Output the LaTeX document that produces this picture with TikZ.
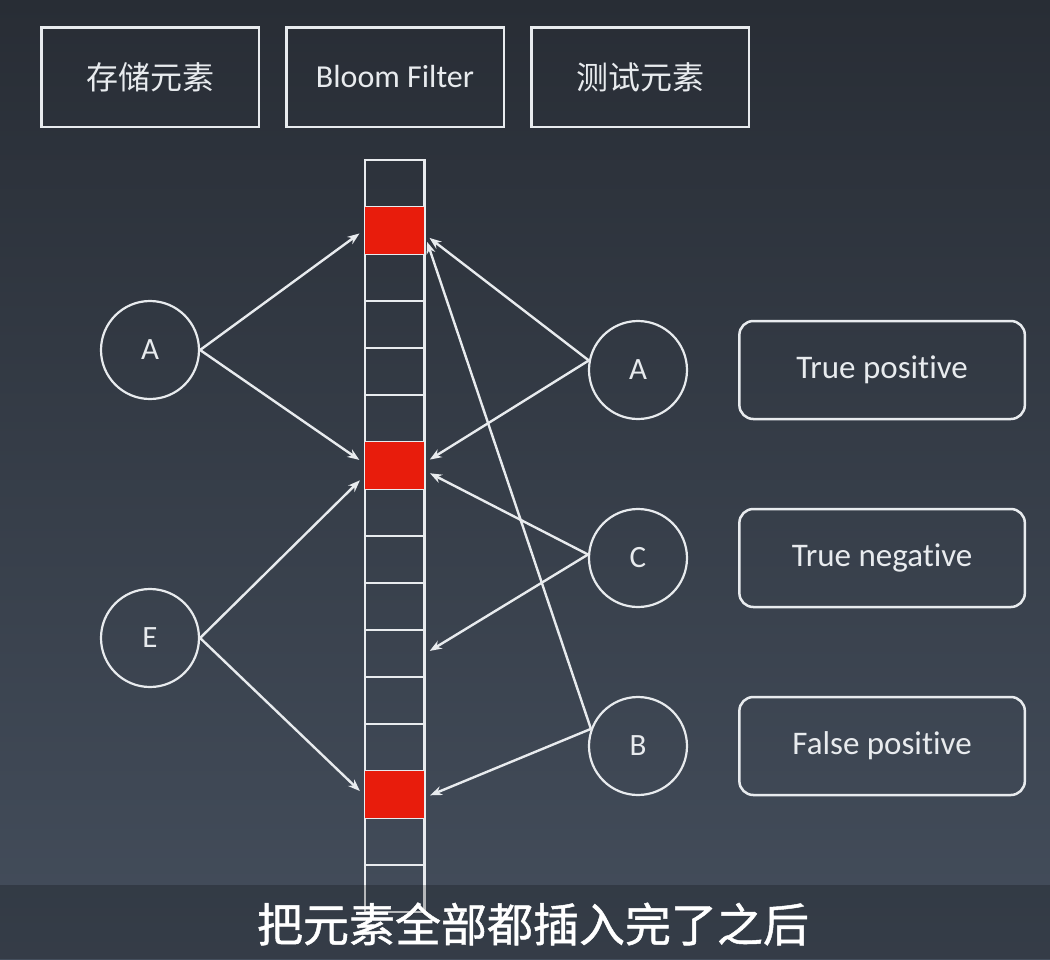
\documentclass[tikz,border=0pt]{standalone}
\usepackage{fontspec}
\setmainfont{Carlito}[Ligatures=NoCommon]
\newfontfamily\cjk{Noto Sans CJK SC}
\newfontfamily\cjksub[FakeBold=1]{Noto Sans CJK SC}
\usetikzlibrary{arrows.meta, positioning}
\definecolor{bgtop}{RGB}{40,45,53}
\definecolor{bgbot}{RGB}{68,78,92}
\definecolor{ink}{RGB}{232,235,238}
\definecolor{bitred}{RGB}{232,28,12}

\begin{document}
\begin{tikzpicture}[x=1pt, y=-1pt,
    box/.style={rectangle, draw=ink, line width=2.5pt, minimum width=217.5pt, minimum height=99.5pt, text=ink, font=\fontsize{32}{38}\selectfont},
    res/.style={box, rounded corners=14pt, minimum width=285.5pt, minimum height=98pt, font=\fontsize{33}{39}\selectfont},
    elem/.style={circle, draw=ink, line width=2.2pt, minimum size=98pt, text=ink, font=\fontsize{31}{34}\selectfont},
    cell/.style={rectangle, draw=ink, line width=2.5pt, minimum width=59.5pt, minimum height=47pt, inner sep=0pt},
    hit/.style={-{Stealth[length=12pt,width=9pt]}, draw=ink, line width=2.4pt, shorten >=5pt}
]
\useasboundingbox (0,0) rectangle (1050,959);
\shade[top color=bgtop, bottom color=bgbot] (0,0) rectangle (1050,959);

\node[box] (store) at (150,77) {\cjk 存储元素};
\node[box, right=25pt of store] (bloom) {Bloom Filter};
\node[box, right=25pt of bloom] (test) {\cjk 测试元素};

\foreach \i in {0,...,15}
  \node[cell] (cell\i) at (394.5,183.5+47*\i) {};
\foreach \i in {1,6,13}
  \fill[bitred] ([shift={(1.25pt,-1.25pt)}]cell\i.north west) rectangle ([shift={(-1.25pt,1.25pt)}]cell\i.south east);

\node[elem] (ia) at (150,350) {A};
\node[elem] (ie) at (150,638) {E};
\node[elem] (ta) at (638,370) {A};
\node[elem] (tc) at (638,558) {C};
\node[elem] (tb) at (638,746) {B};

\node[res, right=50pt of ta] (tp) {True positive};
\node[res, right=50pt of tc] (tn) {True negative};
\node[res, right=50pt of tb] (fp) {False positive};

\draw[hit] (ia.east) -- (cell1.west);
\draw[hit] (ia.east) -- (cell6.175);
\draw[hit] (ie.east) -- (cell6.200);
\draw[hit] (ie.east) -- (cell13.west);
\draw[hit] (ta.169) -- (cell1.352);
\draw[hit] (ta.169) -- (cell6.6);
\draw[hit] (tc.176) -- (cell6.350);
\draw[hit] (tc.176) -- (cell10.east);
\draw[hit] (tb.160) -- (cell1.348);
\draw[hit] (tb.160) -- (cell13.355);

\fill[black, opacity=0.22] (0,885) rectangle (1050,959);
\node[text=white, font=\fontsize{46}{52}\selectfont] (note) at (533,924) {\cjksub 把元素全部都插入完了之后};
\end{tikzpicture}
\end{document}
